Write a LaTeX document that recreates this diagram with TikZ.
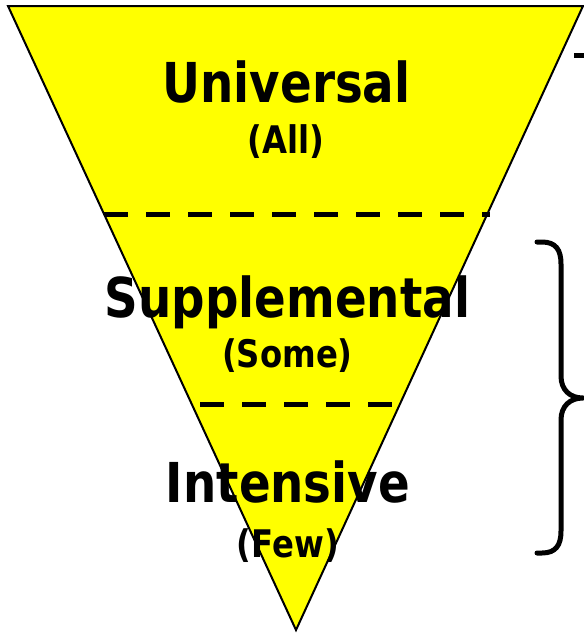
\documentclass[tikz,border=0pt]{standalone}
\usepackage{fontspec}
\newfontfamily\tfont[FakeStretch=0.85]{DejaVu Sans}
\definecolor{pyellow}{RGB}{255,255,0}
\begin{document}
\begin{tikzpicture}[x=1pt,y=-1pt,
  big/.style={font=\tfont\bfseries\fontsize{55}{55}\selectfont, anchor=base, inner sep=0pt},
  small/.style={font=\tfont\bfseries\fontsize{38}{38}\selectfont, anchor=base, inner sep=0pt},
  divider/.style={line width=5pt, dash pattern=on 24pt off 18pt},
  bracestyle/.style={line width=5pt, line cap=round, line join=round}]
\useasboundingbox (0,0) rectangle (584,635);
\coordinate (tl) at (8,6);
\coordinate (tr) at (583,6);
\coordinate (apex) at (296,630);
\fill[pyellow] (tl) -- (tr) -- (apex) -- cycle;
\draw[line width=2pt, line join=miter] (tl) -- (tr) -- (apex) -- cycle;
\coordinate (d1a) at (104,214);
\coordinate (d1b) at (490,214);
\coordinate (d2a) at (200,404);
\coordinate (d2b) at (392,404);
\draw[divider] (d1a) -- (d1b);
\draw[divider] (d2a) -- (d2b);
\node[big] (universal) at (286.5,102) {Universal};
\node[small] (all) at (286,153) {(All)};
\node[big] (supp) at (287.5,317) {Supplemental};
\node[small] (some) at (287.5,367) {(Some)};
\node[big] (intensive) at (288,502) {Intensive};
\node[small] (few) at (288,557) {(Few)};
\coordinate (bt) at (537,242);
\coordinate (bm) at (583,398);
\coordinate (bb) at (537,553);
\draw[bracestyle] (bt) -- (542,242) .. controls (556,242) and (561,250) .. (561,264)
  -- (561,376) .. controls (561,390) and (570,398) .. (bm)
  .. controls (570,398) and (561,406) .. (561,420)
  -- (561,531) .. controls (561,545) and (556,553) .. (542,553) -- (bb);
\coordinate (m1) at (574,55);
\coordinate (m2) at (584,55);
\draw[line width=5pt] (m1) -- (m2);
\end{tikzpicture}
\end{document}
